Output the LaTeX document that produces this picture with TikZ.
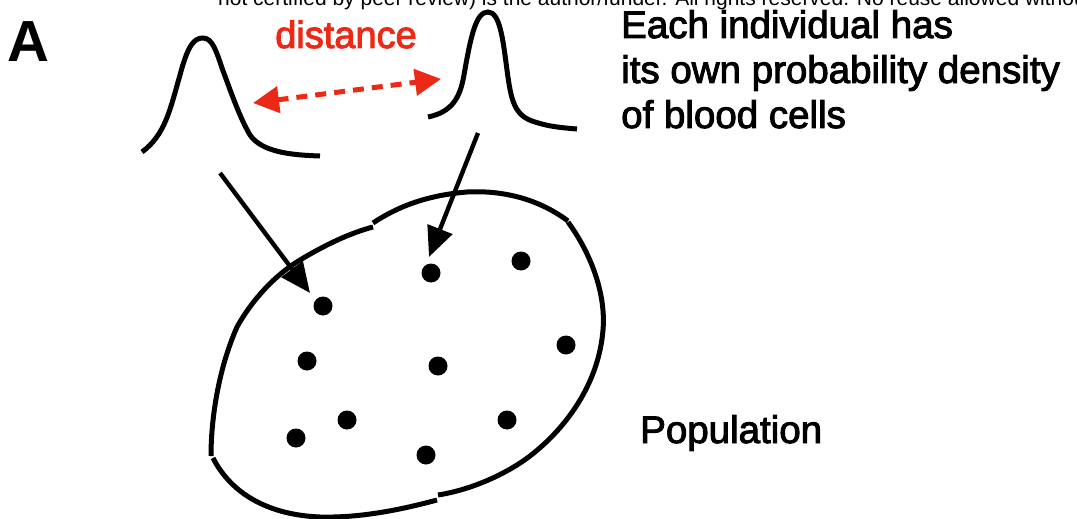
\documentclass[tikz,border=0pt]{standalone}
\usepackage{fontspec}
\setmainfont{Liberation Sans}
\newfontfamily\medfont[FakeBold=2.5]{Liberation Sans}
\usetikzlibrary{arrows.meta}
\definecolor{distred}{RGB}{236,40,22}
\tikzset{
  curve/.style={line width=5pt, line cap=butt},
  blob/.style={line width=5pt},
  cell/.style={circle, fill=black, inner sep=0pt, minimum size=19pt},
  pointer/.style={line width=4.4pt, -{Triangle[length=30pt,width=26pt]}},
  dist/.style={line width=5pt, distred, dash pattern=on 11pt off 8pt,
     {Triangle[length=26pt,width=26pt]}-{Triangle[length=26pt,width=26pt]}},
  label/.style={anchor=base west, inner sep=0pt, font=\medfont\fontsize{38.5}{44}\selectfont}
}
\begin{document}
\begin{tikzpicture}[x=1pt,y=-1pt]
\useasboundingbox (0,0) rectangle (1077,519);
\clip (0,0) rectangle (1077,519);
\node[anchor=base west, inner sep=0pt, font=\fontsize{21}{24}\selectfont] (top) at (218,6) {not certified by peer review) is the author/funder. All rights reserved. No reuse allowed without permission.};
\node[anchor=base west, inner sep=0pt, font=\bfseries\fontsize{58}{60}\selectfont] (A) at (7,62) {A};
\node[anchor=base, inner sep=0pt, text=distred, font=\medfont\fontsize{38}{44}\selectfont] (dlab) at (346,48) {distance};
\node[label] (t1) at (621,38) {Each individual has};
\node[label] (t2) at (621,83) {its own probability density};
\node[label] (t3) at (621,128) {of blood cells};
\node[label] (pop) at (640,443) {Population};
% densities
\draw[curve] (142,152) .. controls (165,135) and (170,110) .. (180,75) .. controls (188,45) and (194,38) .. (203,38) .. controls (212,38) and (216,50) .. (222,68) .. controls (232,95) and (240,118) .. (250,135) .. controls (262,152) and (290,155) .. (320,156);
\draw[curve] (428,117) .. controls (452,112) and (460,98) .. (464,75) .. controls (471,35) and (476,12) .. (488,12) .. controls (500,12) and (503,40) .. (507,70) .. controls (511,100) and (514,116) .. (535,122) .. controls (550,127) and (565,128) .. (577,129);
% distance arrow
\coordinate (dl) at (253,103);
\coordinate (dr) at (441,79);
\draw[dist] (dl) -- (dr);
% blob
\draw[blob] (211,456) .. controls (211,420) and (218,370) .. (237,327) .. controls (252,300) and (275,275) .. (300,260) .. controls (325,245) and (350,233) .. (373,227);
\draw[blob] (373,223) .. controls (400,205) and (430,195) .. (467,192) .. controls (505,190) and (540,200) .. (568,221);
\draw[blob] (568,222) .. controls (592,255) and (606,295) .. (603,330) .. controls (599,380) and (570,425) .. (530,456) .. controls (505,475) and (470,490) .. (438,495);
\draw[blob] (437,500) .. controls (400,510) and (360,518) .. (320,517) .. controls (270,515) and (232,495) .. (213,458);
% cells
\node[cell] (c1) at (323,306) {};
\node[cell] (c2) at (431,273) {};
\node[cell] (c3) at (521,261) {};
\node[cell] (c4) at (307,361) {};
\node[cell] (c5) at (438,366) {};
\node[cell] (c6) at (566,345) {};
\node[cell] (c7) at (347,420) {};
\node[cell] (c8) at (296,438) {};
\node[cell] (c9) at (507,420) {};
\node[cell] (c10) at (426,455) {};
% pointers
\coordinate (p1) at (220,173);
\coordinate (p2) at (478,133);
\draw[pointer] (p1) -- (310,293);
\draw[pointer] (p2) -- (429,257);
\end{tikzpicture}
\end{document}
